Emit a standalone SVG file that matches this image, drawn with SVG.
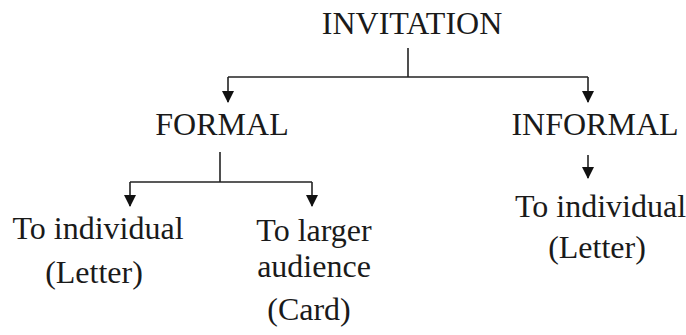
<svg xmlns="http://www.w3.org/2000/svg" width="686" height="335" viewBox="0 0 686 335">
  <style>
    .t { font-family: "Liberation Serif", "Times New Roman", serif; font-size: 32px; fill: #1a1a1a; text-anchor: middle; }
    .c { fill: none; stroke: #222; stroke-width: 1.6; }
  </style>
  <defs>
    <marker id="arr" viewBox="0 0 12 12" refX="11" refY="6" markerWidth="12" markerHeight="12" markerUnits="userSpaceOnUse" orient="auto">
      <path d="M0,0 L12,6 L0,12 Z" fill="#111"/>
    </marker>
  </defs>
  <rect width="686" height="335" fill="#fff"/>

  <g id="connectors">
    <path class="c" d="M408,48 V77"/>
    <path class="c" d="M228,77 H588"/>
    <path class="c" d="M228,77 V102" marker-end="url(#arr)"/>
    <path class="c" d="M588,77 V102" marker-end="url(#arr)"/>
    <path class="c" d="M220,152 V182"/>
    <path class="c" d="M130,182 H312"/>
    <path class="c" d="M130,182 V206" marker-end="url(#arr)"/>
    <path class="c" d="M312,182 V206" marker-end="url(#arr)"/>
    <path class="c" d="M588,155 V178" marker-end="url(#arr)"/>
  </g>

  <g id="invitation"><text class="t" x="412" y="34">INVITATION</text></g>
  <g id="formal"><text class="t" x="222" y="135">FORMAL</text></g>
  <g id="informal"><text class="t" x="595" y="135">INFORMAL</text></g>
  <g id="formal-individual">
    <text class="t" x="98" y="239">To individual</text>
    <text class="t" x="94" y="283">(Letter)</text>
  </g>
  <g id="formal-larger">
    <text class="t" x="314" y="241">To larger</text>
    <text class="t" x="314" y="277">audience</text>
    <text class="t" x="309" y="320">(Card)</text>
  </g>
  <g id="informal-individual">
    <text class="t" x="515" y="217" style="text-anchor:start">To individual</text>
    <text class="t" x="597" y="258">(Letter)</text>
  </g>
</svg>
